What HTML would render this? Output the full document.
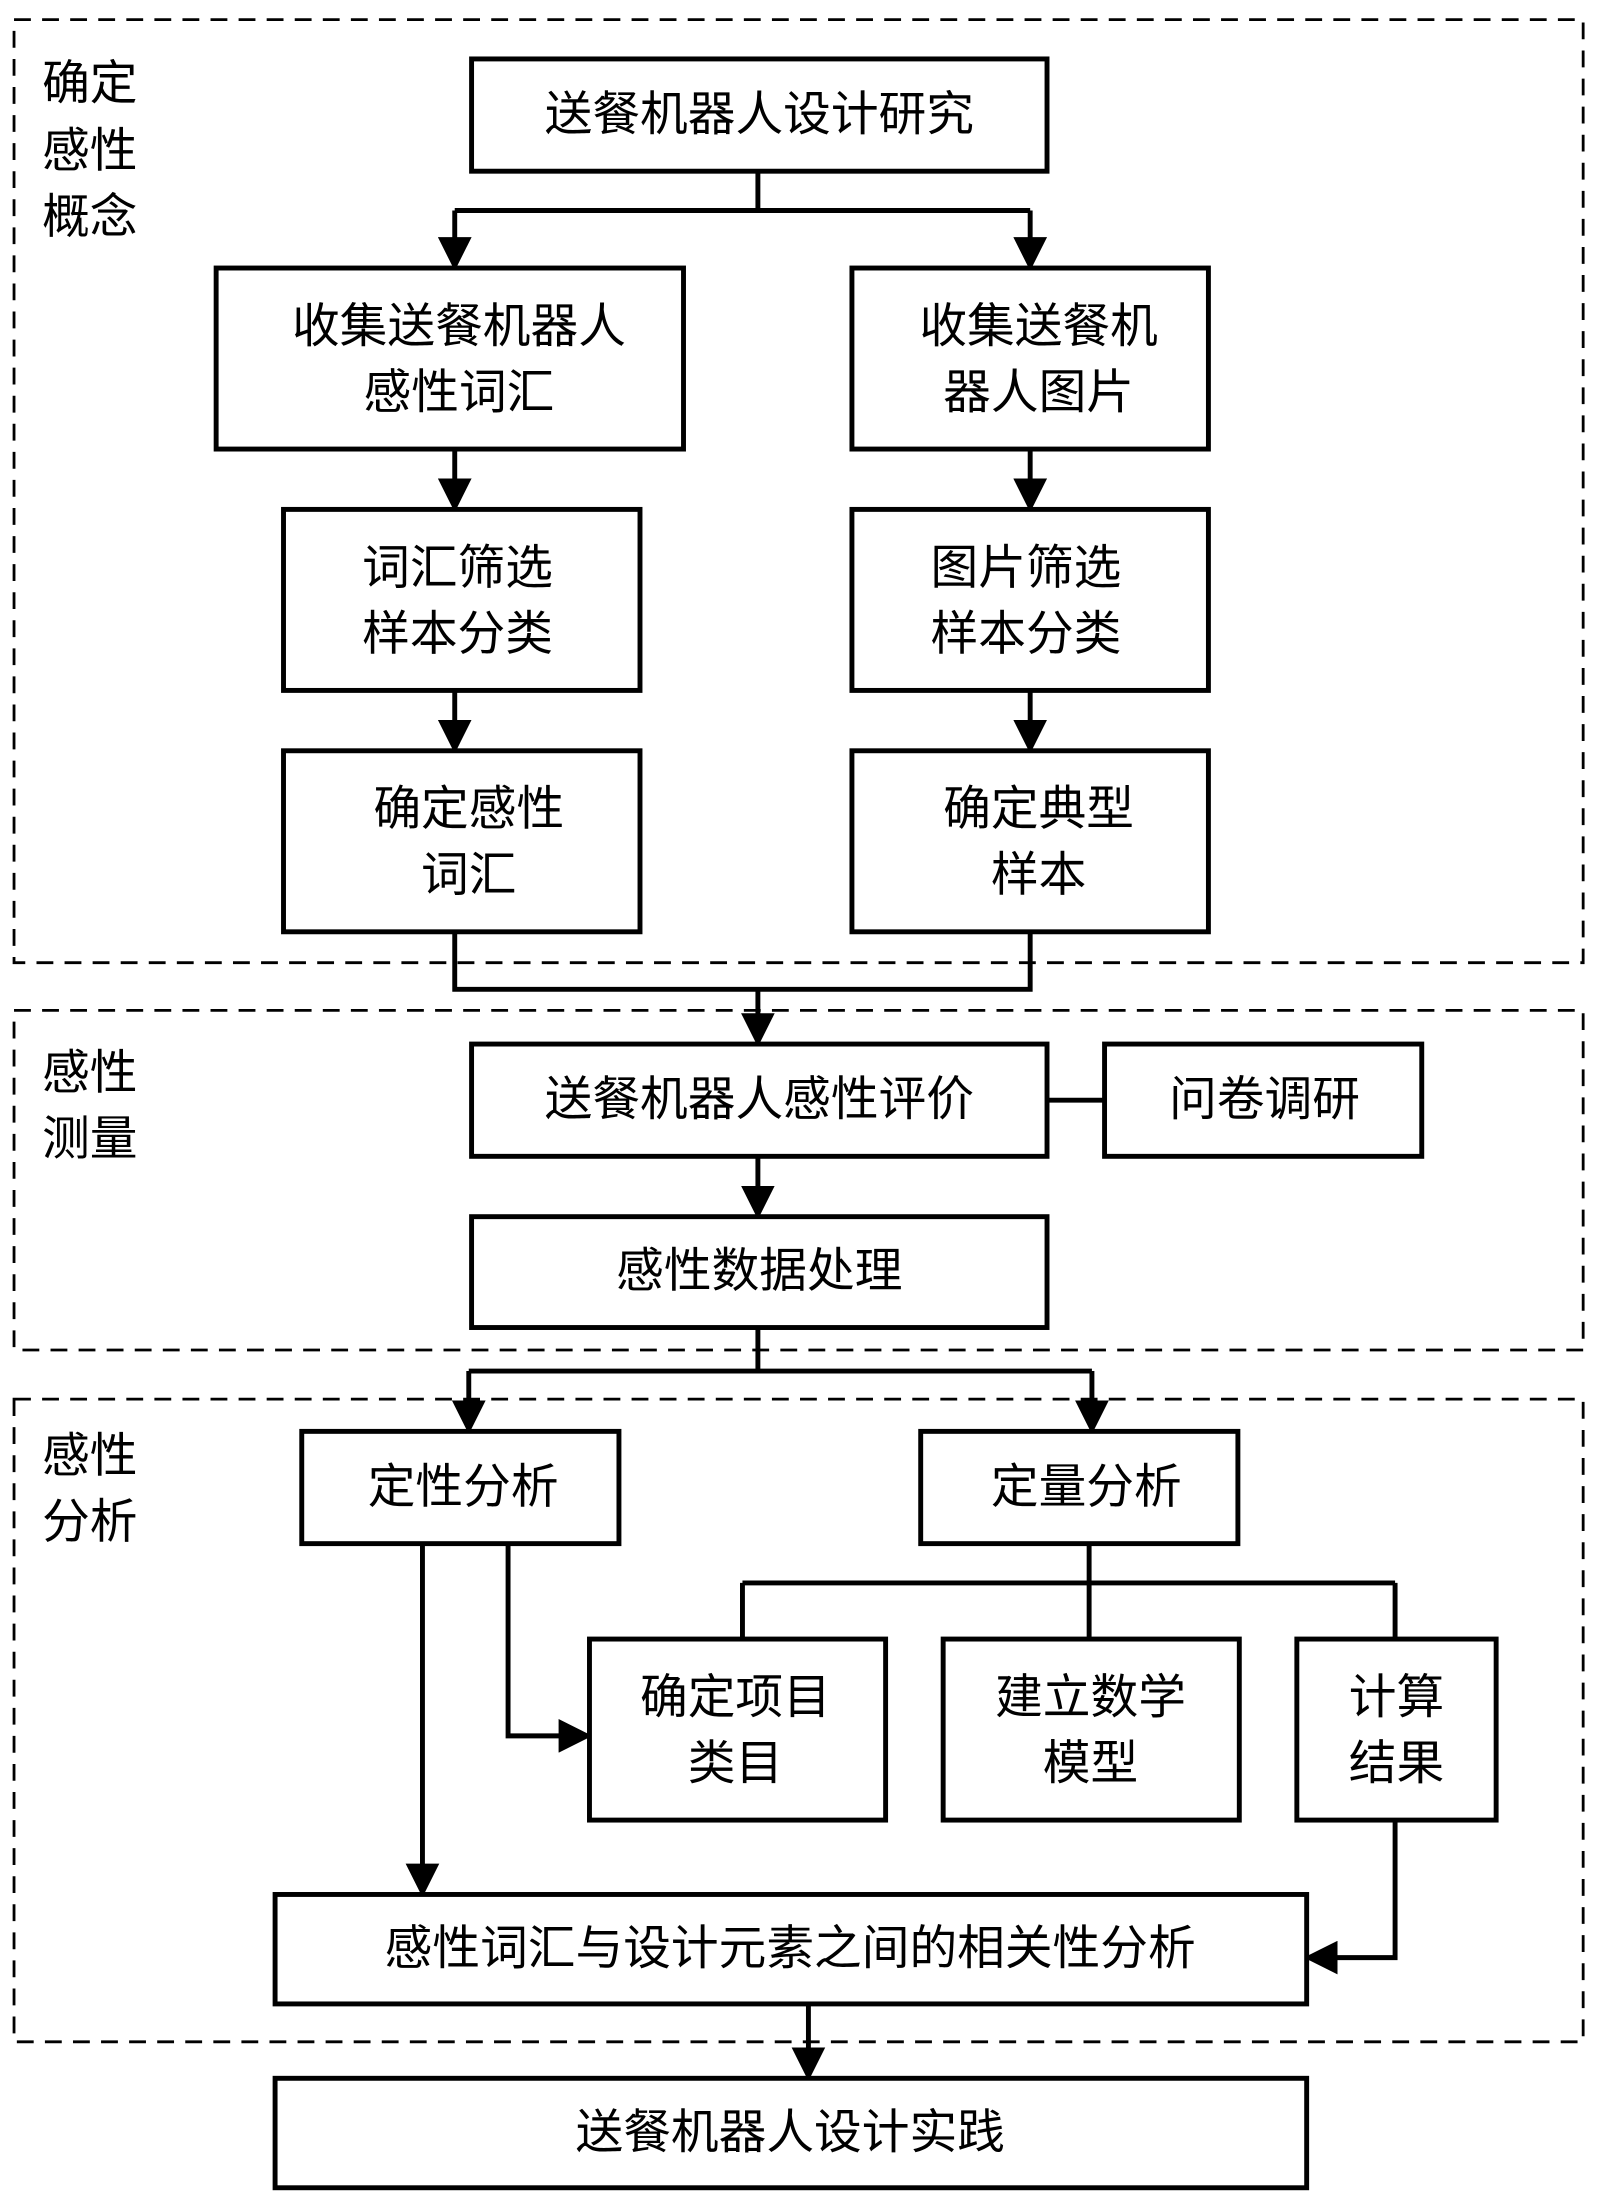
<!DOCTYPE html>
<html><head><meta charset="utf-8"><style>
html,body{margin:0;padding:0;background:#fff;width:1600px;height:2206px;overflow:hidden}
svg{display:block}
text{font-family:"Liberation Sans","Noto Sans CJK SC",sans-serif;font-size:34px;fill:#000;text-anchor:middle;dominant-baseline:central}
.lbl{text-anchor:start}
rect.b{fill:#fff;stroke:#000;stroke-width:3.5}
rect.d{fill:none;stroke:#000;stroke-width:2;stroke-dasharray:12 8}
path{fill:none;stroke:#000;stroke-width:3.5}
</style></head><body>
<svg width="1600" height="2206" viewBox="0 0 1140 1572" preserveAspectRatio="none" xmlns="http://www.w3.org/2000/svg">
<defs><marker id="a" markerWidth="8" markerHeight="8" refX="6" refY="4" orient="auto" markerUnits="userSpaceOnUse" viewBox="0 0 8 8"><path d="M0,0 L8,4 L0,8 z" style="fill:#000;stroke:none"/></marker>
<marker id="ar" markerWidth="24" markerHeight="24" refX="22" refY="12" orient="auto" markerUnits="userSpaceOnUse"><path d="M0,0 L24,12 L0,24 z" style="fill:#000;stroke:none"/></marker></defs>
<rect class="d" x="10" y="14" width="1118" height="672"/>
<rect class="d" x="10" y="720" width="1118" height="242"/>
<rect class="d" x="10" y="997" width="1118" height="458"/>
<text class="lbl" x="30" y="60">确定</text><text class="lbl" x="30" y="108">感性</text><text class="lbl" x="30" y="155">概念</text>
<text class="lbl" x="30" y="765">感性</text><text class="lbl" x="30" y="812">测量</text>
<text class="lbl" x="30" y="1038">感性</text><text class="lbl" x="30" y="1085">分析</text>
<!-- connectors -->
<path d="M540,122 V150 M324,150 H734"/>
<path d="M324,150 V191" marker-end="url(#ar)"/><path d="M734,150 V191" marker-end="url(#ar)"/>
<path d="M324,320 V363" marker-end="url(#ar)"/><path d="M734,320 V363" marker-end="url(#ar)"/>
<path d="M324,492 V535" marker-end="url(#ar)"/><path d="M734,492 V535" marker-end="url(#ar)"/>
<path d="M324,664 V705 H734 V664"/>
<path d="M540,705 V744" marker-end="url(#ar)"/>
<path d="M746,784 H787"/>
<path d="M540,824 V867" marker-end="url(#ar)"/>
<path d="M540,946 V977 M334,977 H778"/>
<path d="M334,977 V1020" marker-end="url(#ar)"/><path d="M778,977 V1020" marker-end="url(#ar)"/>
<path d="M776,1100 V1168 M529,1128 H994 M529,1128 V1168 M994,1128 V1168"/>
<path d="M301,1100 V1350" marker-end="url(#ar)"/>
<path d="M362,1100 V1237 H420" marker-end="url(#ar)"/>
<path d="M994,1297 V1395 H931" marker-end="url(#ar)"/>
<path d="M576,1428 V1481" marker-end="url(#ar)"/>
<!-- boxes -->
<rect class="b" x="336" y="42" width="410" height="80"/><text x="541" y="82">送餐机器人设计研究</text>
<rect class="b" x="154" y="191" width="333" height="129"/><text x="327" y="233">收集送餐机器人</text><text x="327" y="280">感性词汇</text>
<rect class="b" x="607" y="191" width="254" height="129"/><text x="740" y="233">收集送餐机</text><text x="740" y="280">器人图片</text>
<rect class="b" x="202" y="363" width="254" height="129"/><text x="326" y="405">词汇筛选</text><text x="326" y="452">样本分类</text>
<rect class="b" x="607" y="363" width="254" height="129"/><text x="731" y="405">图片筛选</text><text x="731" y="452">样本分类</text>
<rect class="b" x="202" y="535" width="254" height="129"/><text x="334" y="577">确定感性</text><text x="334" y="624">词汇</text>
<rect class="b" x="607" y="535" width="254" height="129"/><text x="740" y="577">确定典型</text><text x="740" y="624">样本</text>
<rect class="b" x="336" y="744" width="410" height="80"/><text x="541" y="784">送餐机器人感性评价</text>
<rect class="b" x="787" y="744" width="226" height="80"/><text x="901" y="784">问卷调研</text>
<rect class="b" x="336" y="867" width="410" height="79"/><text x="541" y="906">感性数据处理</text>
<rect class="b" x="215" y="1020" width="226" height="80"/><text x="330" y="1060">定性分析</text>
<rect class="b" x="656" y="1020" width="226" height="80"/><text x="774" y="1060">定量分析</text>
<rect class="b" x="420" y="1168" width="211" height="129"/><text x="524" y="1210">确定项目</text><text x="524" y="1257">类目</text>
<rect class="b" x="672" y="1168" width="211" height="129"/><text x="777" y="1210">建立数学</text><text x="777" y="1257">模型</text>
<rect class="b" x="924" y="1168" width="142" height="129"/><text x="995" y="1210">计算</text><text x="995" y="1257">结果</text>
<rect class="b" x="196" y="1350" width="735" height="78"/><text x="563" y="1389">感性词汇与设计元素之间的相关性分析</text>
<rect class="b" x="196" y="1481" width="735" height="78"/><text x="563" y="1520">送餐机器人设计实践</text>
</svg>
</body></html>
